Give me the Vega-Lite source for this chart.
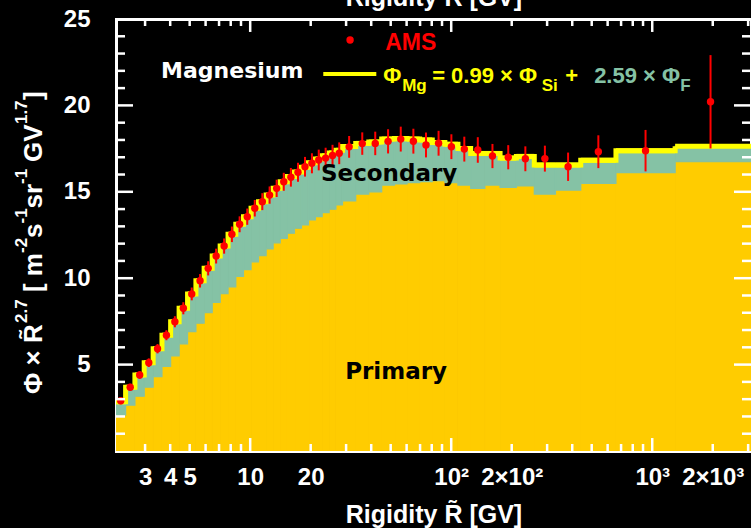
{
  "$schema": "https://vega.github.io/schema/vega-lite/v6.json",
  "width": 635,
  "height": 432,
  "autosize": {"type": "none"},
  "padding": {"left": 116, "top": 19, "right": 0, "bottom": 77},
  "background": "#000000",
  "view": {"stroke": null},
  "config": {
    "axis": {
      "domainColor": "#ffffff", "domainWidth": 3, "domainCap": "square",
      "labelColor": "#ffffff", "labelFont": "Liberation Sans", "labelFontSize": 24, "labelFontWeight": "bold",
      "titleColor": "#ffffff", "titleFont": "Liberation Sans", "titleFontSize": 25, "titleFontWeight": "bold",
      "grid": false, "zindex": 1, "labelOverlap": false, "labelFlush": false, "labelBound": false
    },
    "rule": {"color": "#ffffff", "strokeWidth": 2.5, "strokeCap": "butt"}
  },
  "datasets": {
    "bins": [
      {"lo": 2.15, "hi": 2.40, "r": 2.27, "flux": 2.91, "err": 0.20, "total": 2.85, "primary": 2.08},
      {"lo": 2.40, "hi": 2.67, "r": 2.53, "flux": 3.69, "err": 0.20, "total": 3.69, "primary": 2.66},
      {"lo": 2.67, "hi": 2.97, "r": 2.82, "flux": 4.40, "err": 0.22, "total": 4.40, "primary": 3.17},
      {"lo": 2.97, "hi": 3.29, "r": 3.13, "flux": 5.11, "err": 0.25, "total": 5.11, "primary": 3.70},
      {"lo": 3.29, "hi": 3.64, "r": 3.46, "flux": 5.92, "err": 0.27, "total": 5.92, "primary": 4.30},
      {"lo": 3.64, "hi": 4.02, "r": 3.83, "flux": 6.70, "err": 0.29, "total": 6.70, "primary": 4.90},
      {"lo": 4.02, "hi": 4.43, "r": 4.22, "flux": 7.48, "err": 0.32, "total": 7.48, "primary": 5.50},
      {"lo": 4.43, "hi": 4.88, "r": 4.65, "flux": 8.26, "err": 0.35, "total": 8.26, "primary": 6.20},
      {"lo": 4.88, "hi": 5.37, "r": 5.12, "flux": 9.09, "err": 0.37, "total": 9.09, "primary": 6.90},
      {"lo": 5.37, "hi": 5.90, "r": 5.63, "flux": 9.85, "err": 0.39, "total": 9.85, "primary": 7.40},
      {"lo": 5.90, "hi": 6.47, "r": 6.18, "flux": 10.57, "err": 0.41, "total": 10.57, "primary": 8.00},
      {"lo": 6.47, "hi": 7.09, "r": 6.77, "flux": 11.28, "err": 0.43, "total": 11.28, "primary": 8.60},
      {"lo": 7.09, "hi": 7.76, "r": 7.42, "flux": 11.86, "err": 0.44, "total": 11.86, "primary": 9.10},
      {"lo": 7.76, "hi": 8.48, "r": 8.11, "flux": 12.54, "err": 0.45, "total": 12.54, "primary": 9.50},
      {"lo": 8.48, "hi": 9.26, "r": 8.86, "flux": 13.12, "err": 0.46, "total": 13.12, "primary": 10.10},
      {"lo": 9.26, "hi": 10.1, "r": 9.67, "flux": 13.56, "err": 0.47, "total": 13.56, "primary": 10.50},
      {"lo": 10.1, "hi": 11.0, "r": 10.54, "flux": 14.05, "err": 0.48, "total": 14.05, "primary": 10.95},
      {"lo": 11.0, "hi": 12.0, "r": 11.49, "flux": 14.43, "err": 0.49, "total": 14.43, "primary": 11.30},
      {"lo": 12.0, "hi": 13.0, "r": 12.49, "flux": 14.81, "err": 0.50, "total": 14.81, "primary": 11.70},
      {"lo": 13.0, "hi": 14.1, "r": 13.54, "flux": 15.20, "err": 0.50, "total": 15.20, "primary": 12.05},
      {"lo": 14.1, "hi": 15.3, "r": 14.69, "flux": 15.58, "err": 0.52, "total": 15.58, "primary": 12.31},
      {"lo": 15.3, "hi": 16.6, "r": 15.94, "flux": 15.84, "err": 0.54, "total": 15.88, "primary": 12.60},
      {"lo": 16.6, "hi": 18.0, "r": 17.29, "flux": 16.13, "err": 0.55, "total": 16.15, "primary": 12.89},
      {"lo": 18.0, "hi": 19.5, "r": 18.73, "flux": 16.45, "err": 0.57, "total": 16.42, "primary": 13.08},
      {"lo": 19.5, "hi": 21.1, "r": 20.28, "flux": 16.65, "err": 0.58, "total": 16.68, "primary": 13.37},
      {"lo": 21.1, "hi": 22.8, "r": 21.93, "flux": 16.84, "err": 0.60, "total": 16.90, "primary": 13.56},
      {"lo": 22.8, "hi": 24.7, "r": 23.73, "flux": 16.95, "err": 0.60, "total": 17.08, "primary": 13.79},
      {"lo": 24.7, "hi": 26.7, "r": 25.68, "flux": 17.10, "err": 0.62, "total": 17.25, "primary": 13.99},
      {"lo": 26.7, "hi": 28.8, "r": 27.73, "flux": 17.23, "err": 0.63, "total": 17.40, "primary": 14.24},
      {"lo": 28.8, "hi": 33.5, "r": 31.06, "flux": 17.60, "err": 0.63, "total": 17.62, "primary": 14.47},
      {"lo": 33.5, "hi": 38.9, "r": 36.10, "flux": 17.79, "err": 0.65, "total": 17.80, "primary": 14.87},
      {"lo": 38.9, "hi": 45.1, "r": 41.89, "flux": 17.80, "err": 0.68, "total": 17.88, "primary": 15.00},
      {"lo": 45.1, "hi": 52.2, "r": 48.52, "flux": 17.92, "err": 0.70, "total": 18.05, "primary": 15.39},
      {"lo": 52.2, "hi": 60.3, "r": 56.10, "flux": 18.05, "err": 0.72, "total": 18.08, "primary": 15.45},
      {"lo": 60.3, "hi": 69.7, "r": 64.83, "flux": 17.93, "err": 0.72, "total": 18.05, "primary": 15.53},
      {"lo": 69.7, "hi": 80.5, "r": 74.90, "flux": 17.71, "err": 0.72, "total": 18.00, "primary": 15.59},
      {"lo": 80.5, "hi": 93.0, "r": 86.53, "flux": 17.81, "err": 0.72, "total": 17.85, "primary": 15.64},
      {"lo": 93.0, "hi": 108, "r": 100.2, "flux": 17.61, "err": 0.72, "total": 17.75, "primary": 15.53},
      {"lo": 108, "hi": 125, "r": 116.2, "flux": 17.47, "err": 0.72, "total": 17.50, "primary": 15.39},
      {"lo": 125, "hi": 147, "r": 135.6, "flux": 17.42, "err": 0.74, "total": 17.22, "primary": 15.20},
      {"lo": 147, "hi": 175, "r": 160.4, "flux": 17.07, "err": 0.70, "total": 17.22, "primary": 15.39},
      {"lo": 175, "hi": 211, "r": 192.2, "flux": 17.00, "err": 0.70, "total": 16.95, "primary": 15.26},
      {"lo": 211, "hi": 259, "r": 233.8, "flux": 16.91, "err": 0.72, "total": 17.05, "primary": 15.34},
      {"lo": 259, "hi": 330, "r": 292.4, "flux": 16.92, "err": 0.75, "total": 16.55, "primary": 14.87},
      {"lo": 330, "hi": 441, "r": 381.5, "flux": 16.45, "err": 0.82, "total": 16.55, "primary": 15.10},
      {"lo": 441, "hi": 660, "r": 539.5, "flux": 17.32, "err": 0.95, "total": 16.82, "primary": 15.49},
      {"lo": 660, "hi": 1300, "r": 926.3, "flux": 17.38, "err": 1.20, "total": 17.38, "primary": 16.11},
      {"lo": 1300, "hi": 3300, "r": 1950, "flux": 20.21, "err": 2.70, "total": 17.63, "primary": 16.74}
    ],
    "xMajor": [{"v": 10}, {"v": 100}, {"v": 1000}],
    "xMinor": [{"v": 3}, {"v": 4}, {"v": 5}, {"v": 6}, {"v": 7}, {"v": 8}, {"v": 9},
               {"v": 20}, {"v": 30}, {"v": 40}, {"v": 50}, {"v": 60}, {"v": 70}, {"v": 80}, {"v": 90},
               {"v": 200}, {"v": 300}, {"v": 400}, {"v": 500}, {"v": 600}, {"v": 700}, {"v": 800}, {"v": 900},
               {"v": 2000}, {"v": 3000}],
    "yMajor": [{"v": 5}, {"v": 10}, {"v": 15}, {"v": 20}],
    "yMinor": [{"v": 1}, {"v": 2}, {"v": 3}, {"v": 4}, {"v": 6}, {"v": 7}, {"v": 8}, {"v": 9},
               {"v": 11}, {"v": 12}, {"v": 13}, {"v": 14}, {"v": 16}, {"v": 17}, {"v": 18}, {"v": 19},
               {"v": 21}, {"v": 22}, {"v": 23}, {"v": 24}]
  },
  "layer": [
    {
      "description": "primary contribution; carries the labelled bottom and left axes with the frame",
      "data": {"name": "bins"},
      "mark": {"type": "rect", "fill": "#ffcc00", "stroke": "#ffcc00", "strokeWidth": 1.2, "clip": true},
      "encoding": {
        "x": {"field": "lo", "type": "quantitative", "scale": {"type": "log", "domain": [2.15, 3100], "nice": false},
              "axis": {"orient": "bottom", "values": [3, 4, 5, 10, 20, 100, 200, 1000, 2000], "ticks": false, "domain": true,
                       "labelPadding": 33, "labelBaseline": "alphabetic", "labelAlign": "center",
                       "labelExpr": "datum.value == 100 ? '10²' : datum.value == 200 ? '2×10²' : datum.value == 1000 ? '10³' : datum.value == 2000 ? '2×10³' : '' + datum.value",
                       "title": "Rigidity R̃ [GV]", "titleY": 71, "titleBaseline": "alphabetic"}},
        "x2": {"field": "hi"},
        "y": {"field": "primary", "type": "quantitative", "scale": {"domain": [0, 25], "nice": false, "zero": false},
              "axis": {"orient": "left", "values": [5, 10, 15, 20, 25], "ticks": false, "domain": true,
                       "labelPadding": 26, "labelBaseline": "middle", "labelAlign": "right", "title": null}},
        "y2": {"datum": 0}
      }
    },
    {
      "description": "secondary contribution",
      "data": {"name": "bins"},
      "mark": {"type": "rect", "fill": "#85c2a5", "stroke": "#85c2a5", "strokeWidth": 1.2, "clip": true},
      "encoding": {
        "x": {"field": "lo", "type": "quantitative", "scale": {"type": "log", "domain": [2.15, 3100], "nice": false}, "axis": null},
        "x2": {"field": "hi"},
        "y": {"field": "total", "type": "quantitative", "scale": {"domain": [0, 25], "nice": false, "zero": false}, "axis": null},
        "y2": {"field": "primary"}
      }
    },
    {
      "description": "model total, horizontal steps",
      "data": {"name": "bins"},
      "mark": {"type": "rule", "color": "#ffff00", "strokeWidth": 5, "strokeCap": "butt", "clip": true},
      "encoding": {
        "x": {"field": "lo", "type": "quantitative", "scale": {"type": "log", "domain": [2.15, 3100], "nice": false}, "axis": null},
        "x2": {"field": "hi"},
        "y": {"field": "total", "type": "quantitative", "scale": {"domain": [0, 25], "nice": false, "zero": false}, "axis": null}
      }
    },
    {
      "description": "model total, step outline",
      "data": {"name": "bins"},
      "mark": {"type": "line", "color": "#ffff00", "strokeWidth": 5, "interpolate": "step-after", "strokeJoin": "miter", "clip": true},
      "encoding": {
        "x": {"field": "lo", "type": "quantitative", "scale": {"type": "log", "domain": [2.15, 3100], "nice": false}, "axis": null},
        "y": {"field": "total", "type": "quantitative", "scale": {"domain": [0, 25], "nice": false, "zero": false}, "axis": null}
      }
    },
    {
      "description": "AMS error bars",
      "data": {"name": "bins"},
      "mark": {"type": "errorbar", "color": "#ff0000", "thickness": 2, "ticks": false},
      "encoding": {
        "x": {"field": "r", "type": "quantitative", "scale": {"type": "log", "domain": [2.15, 3100], "nice": false}, "axis": null},
        "y": {"field": "flux", "type": "quantitative", "scale": {"domain": [0, 25], "nice": false, "zero": false}, "axis": null},
        "yError": {"field": "err"}
      }
    },
    {
      "description": "AMS points",
      "data": {"name": "bins"},
      "mark": {"type": "circle", "color": "#ff0000", "opacity": 1, "size": 55},
      "encoding": {
        "x": {"field": "r", "type": "quantitative", "scale": {"type": "log", "domain": [2.15, 3100], "nice": false}, "axis": null},
        "y": {"field": "flux", "type": "quantitative", "scale": {"domain": [0, 25], "nice": false, "zero": false}, "axis": null}
      }
    },
    {
      "description": "inward major ticks, bottom",
      "data": {"name": "xMajor"},
      "mark": {"type": "rule"},
      "encoding": {
        "x": {"field": "v", "type": "quantitative", "scale": {"type": "log", "domain": [2.15, 3100], "nice": false}, "axis": null},
        "y": {"datum": 0, "type": "quantitative", "scale": {"domain": [0, 25], "nice": false, "zero": false}, "axis": null},
        "y2": {"datum": 0.75}
      }
    },
    {
      "description": "inward minor ticks, bottom",
      "data": {"name": "xMinor"},
      "mark": {"type": "rule"},
      "encoding": {
        "x": {"field": "v", "type": "quantitative", "scale": {"type": "log", "domain": [2.15, 3100], "nice": false}, "axis": null},
        "y": {"datum": 0, "type": "quantitative", "scale": {"domain": [0, 25], "nice": false, "zero": false}, "axis": null},
        "y2": {"datum": 0.405}
      }
    },
    {
      "description": "inward major ticks, top",
      "data": {"name": "xMajor"},
      "mark": {"type": "rule"},
      "encoding": {
        "x": {"field": "v", "type": "quantitative", "scale": {"type": "log", "domain": [2.15, 3100], "nice": false}, "axis": null},
        "y": {"datum": 25, "type": "quantitative", "scale": {"domain": [0, 25], "nice": false, "zero": false}, "axis": null},
        "y2": {"datum": 24.25}
      }
    },
    {
      "description": "inward minor ticks, top",
      "data": {"name": "xMinor"},
      "mark": {"type": "rule"},
      "encoding": {
        "x": {"field": "v", "type": "quantitative", "scale": {"type": "log", "domain": [2.15, 3100], "nice": false}, "axis": null},
        "y": {"datum": 25, "type": "quantitative", "scale": {"domain": [0, 25], "nice": false, "zero": false}, "axis": null},
        "y2": {"datum": 24.595}
      }
    },
    {
      "description": "inward major ticks, left",
      "data": {"name": "yMajor"},
      "mark": {"type": "rule"},
      "encoding": {
        "y": {"field": "v", "type": "quantitative", "scale": {"domain": [0, 25], "nice": false, "zero": false}, "axis": null},
        "x": {"datum": 2.15, "type": "quantitative", "scale": {"type": "log", "domain": [2.15, 3100], "nice": false}, "axis": null},
        "x2": {"datum": 2.612}
      }
    },
    {
      "description": "inward minor ticks, left",
      "data": {"name": "yMinor"},
      "mark": {"type": "rule"},
      "encoding": {
        "y": {"field": "v", "type": "quantitative", "scale": {"domain": [0, 25], "nice": false, "zero": false}, "axis": null},
        "x": {"datum": 2.15, "type": "quantitative", "scale": {"type": "log", "domain": [2.15, 3100], "nice": false}, "axis": null},
        "x2": {"datum": 2.3835}
      }
    },
    {
      "description": "inward major ticks, right",
      "data": {"name": "yMajor"},
      "mark": {"type": "rule"},
      "encoding": {
        "y": {"field": "v", "type": "quantitative", "scale": {"domain": [0, 25], "nice": false, "zero": false}, "axis": null},
        "x": {"datum": 2551.6, "type": "quantitative", "scale": {"type": "log", "domain": [2.15, 3100], "nice": false}, "axis": null},
        "x2": {"datum": 3100}
      }
    },
    {
      "description": "inward minor ticks, right",
      "data": {"name": "yMinor"},
      "mark": {"type": "rule"},
      "encoding": {
        "y": {"field": "v", "type": "quantitative", "scale": {"domain": [0, 25], "nice": false, "zero": false}, "axis": null},
        "x": {"datum": 2796.3, "type": "quantitative", "scale": {"type": "log", "domain": [2.15, 3100], "nice": false}, "axis": null},
        "x2": {"datum": 3100}
      }
    },
    {
      "description": "legend marker for AMS; carries the top and right frame lines",
      "data": {"values": [{"x": 31.4, "y": 23.78}]},
      "mark": {"type": "circle", "color": "#ff0000", "opacity": 1, "size": 55},
      "encoding": {
        "x": {"field": "x", "type": "quantitative", "scale": {"type": "log", "domain": [2.15, 3100], "nice": false},
              "axis": {"orient": "top", "ticks": false, "labels": false, "domain": true,
                       "title": "Rigidity R̃ [GV]", "titleY": -14, "titleBaseline": "alphabetic"}},
        "y": {"field": "y", "type": "quantitative", "scale": {"domain": [0, 25], "nice": false, "zero": false},
              "axis": {"orient": "right", "ticks": false, "labels": false, "domain": true, "title": null}}
      }
    },
    {
      "description": "legend line for the model",
      "data": {"values": [{"x": 23.1, "x2": 42.4, "y": 21.82}]},
      "mark": {"type": "rule", "color": "#ffff00", "strokeWidth": 4, "strokeCap": "butt"},
      "encoding": {
        "x": {"field": "x", "type": "quantitative", "scale": {"type": "log", "domain": [2.15, 3100], "nice": false}, "axis": null},
        "x2": {"field": "x2"},
        "y": {"field": "y", "type": "quantitative", "scale": {"domain": [0, 25], "nice": false, "zero": false}, "axis": null}
      }
    },
    {
      "description": "AMS legend text",
      "data": {"values": [{"t": "AMS", "x": 46.95, "y": 23.21}]},
      "mark": {"type": "text", "color": "#ff0000", "font": "Liberation Sans", "fontWeight": "bold", "fontSize": 23, "align": "left", "baseline": "alphabetic"},
      "encoding": {
        "x": {"field": "x", "type": "quantitative", "scale": {"type": "log", "domain": [2.15, 3100], "nice": false}, "axis": null},
        "y": {"field": "y", "type": "quantitative", "scale": {"domain": [0, 25], "nice": false, "zero": false}, "axis": null},
        "text": {"field": "t"}
      }
    },
    {
      "description": "element name",
      "data": {"values": [{"t": "Magnesium", "x": 8.14, "y": 21.59}]},
      "mark": {"type": "text", "color": "#ffffff", "font": "DejaVu Sans", "fontWeight": "bold", "fontSize": 22, "align": "center", "baseline": "alphabetic"},
      "encoding": {
        "x": {"field": "x", "type": "quantitative", "scale": {"type": "log", "domain": [2.15, 3100], "nice": false}, "axis": null},
        "y": {"field": "y", "type": "quantitative", "scale": {"domain": [0, 25], "nice": false, "zero": false}, "axis": null},
        "text": {"field": "t"}
      }
    },
    {
      "description": "component labels",
      "data": {"values": [{"t": "Secondary", "x": 49.1, "y": 15.63}, {"t": "Primary", "x": 53.2, "y": 4.17}]},
      "mark": {"type": "text", "color": "#000000", "font": "DejaVu Sans", "fontWeight": "bold", "fontSize": 23, "align": "center", "baseline": "alphabetic"},
      "encoding": {
        "x": {"field": "x", "type": "quantitative", "scale": {"type": "log", "domain": [2.15, 3100], "nice": false}, "axis": null},
        "y": {"field": "y", "type": "quantitative", "scale": {"domain": [0, 25], "nice": false, "zero": false}, "axis": null},
        "text": {"field": "t"}
      }
    },
    {
      "description": "formula, yellow part",
      "data": {"values": [{"t": "Φ", "x": 45.9, "y": 21.3}, {"t": "= 0.99 × Φ", "x": 80.4, "y": 21.3}, {"t": "+", "x": 369, "y": 21.3}]},
      "mark": {"type": "text", "color": "#ffff00", "font": "Liberation Sans", "fontWeight": "bold", "fontSize": 22, "align": "left", "baseline": "alphabetic"},
      "encoding": {
        "x": {"field": "x", "type": "quantitative", "scale": {"type": "log", "domain": [2.15, 3100], "nice": false}, "axis": null},
        "y": {"field": "y", "type": "quantitative", "scale": {"domain": [0, 25], "nice": false, "zero": false}, "axis": null},
        "text": {"field": "t"}
      }
    },
    {
      "description": "formula, yellow subscripts",
      "data": {"values": [{"t": "Mg", "x": 57.0, "y": 20.83}, {"t": "Si", "x": 282, "y": 20.83}]},
      "mark": {"type": "text", "color": "#ffff00", "font": "Liberation Sans", "fontWeight": "bold", "fontSize": 17, "align": "left", "baseline": "alphabetic"},
      "encoding": {
        "x": {"field": "x", "type": "quantitative", "scale": {"type": "log", "domain": [2.15, 3100], "nice": false}, "axis": null},
        "y": {"field": "y", "type": "quantitative", "scale": {"domain": [0, 25], "nice": false, "zero": false}, "axis": null},
        "text": {"field": "t"}
      }
    },
    {
      "description": "formula, secondary part",
      "data": {"values": [{"t": "2.59 × Φ", "x": 514, "y": 21.3}]},
      "mark": {"type": "text", "color": "#85c2a5", "font": "Liberation Sans", "fontWeight": "bold", "fontSize": 22, "align": "left", "baseline": "alphabetic"},
      "encoding": {
        "x": {"field": "x", "type": "quantitative", "scale": {"type": "log", "domain": [2.15, 3100], "nice": false}, "axis": null},
        "y": {"field": "y", "type": "quantitative", "scale": {"domain": [0, 25], "nice": false, "zero": false}, "axis": null},
        "text": {"field": "t"}
      }
    },
    {
      "description": "formula, secondary subscript",
      "data": {"values": [{"t": "F", "x": 1378, "y": 20.83}]},
      "mark": {"type": "text", "color": "#85c2a5", "font": "Liberation Sans", "fontWeight": "bold", "fontSize": 17, "align": "left", "baseline": "alphabetic"},
      "encoding": {
        "x": {"field": "x", "type": "quantitative", "scale": {"type": "log", "domain": [2.15, 3100], "nice": false}, "axis": null},
        "y": {"field": "y", "type": "quantitative", "scale": {"domain": [0, 25], "nice": false, "zero": false}, "axis": null},
        "text": {"field": "t"}
      }
    },
    {
      "description": "y title, base text",
      "data": {"values": [
        {"t": "Φ × R̃", "x": 0.9226, "y": 3.30},
        {"t": "[ m", "x": 0.9226, "y": 9.20},
        {"t": "s", "x": 0.9226, "y": 12.33},
        {"t": "sr", "x": 0.9226, "y": 14.03},
        {"t": "GV", "x": 0.9226, "y": 16.72},
        {"t": "]", "x": 0.9226, "y": 20.31}
      ]},
      "mark": {"type": "text", "color": "#ffffff", "font": "Liberation Sans", "fontWeight": "bold", "fontSize": 26, "align": "left", "baseline": "alphabetic", "angle": 270},
      "encoding": {
        "x": {"field": "x", "type": "quantitative", "scale": {"type": "log", "domain": [2.15, 3100], "nice": false}, "axis": null},
        "y": {"field": "y", "type": "quantitative", "scale": {"domain": [0, 25], "nice": false, "zero": false}, "axis": null},
        "text": {"field": "t"}
      }
    },
    {
      "description": "y title, exponents",
      "data": {"values": [
        {"t": "2.7", "x": 0.777, "y": 7.41},
        {"t": "-2", "x": 0.777, "y": 11.46},
        {"t": "-1", "x": 0.777, "y": 13.17},
        {"t": "-1", "x": 0.777, "y": 15.45},
        {"t": "1.7", "x": 0.777, "y": 18.92}
      ]},
      "mark": {"type": "text", "color": "#ffffff", "font": "Liberation Sans", "fontWeight": "bold", "fontSize": 17, "align": "left", "baseline": "alphabetic", "angle": 270},
      "encoding": {
        "x": {"field": "x", "type": "quantitative", "scale": {"type": "log", "domain": [2.15, 3100], "nice": false}, "axis": null},
        "y": {"field": "y", "type": "quantitative", "scale": {"domain": [0, 25], "nice": false, "zero": false}, "axis": null},
        "text": {"field": "t"}
      }
    }
  ],
  "resolve": {"axis": {"x": "independent", "y": "independent"}}
}
